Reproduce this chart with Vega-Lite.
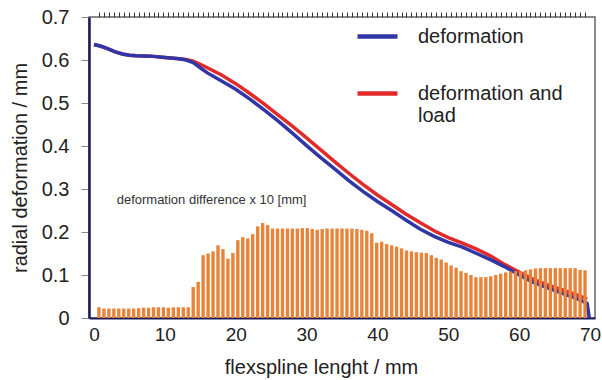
{
  "$schema": "https://vega.github.io/schema/vega-lite/v6.json",
  "width": 506,
  "height": 301,
  "autosize": {"type": "none"},
  "padding": {"left": 89, "top": 17, "right": 7, "bottom": 62},
  "background": "white",
  "config": {
    "font": "Liberation Sans",
    "view": {"stroke": "#666666", "strokeWidth": 1.5},
    "axis": {"grid": false, "labelOverlap": false}
  },
  "resolve": {"axis": {"x": "independent"}},
  "datasets": {
    "lines": [
      {"x": 0, "y": 0.636, "series": "deformation"},
      {"x": 1, "y": 0.632, "series": "deformation"},
      {"x": 2, "y": 0.626, "series": "deformation"},
      {"x": 3, "y": 0.619, "series": "deformation"},
      {"x": 4, "y": 0.614, "series": "deformation"},
      {"x": 5, "y": 0.611, "series": "deformation"},
      {"x": 6, "y": 0.610, "series": "deformation"},
      {"x": 8, "y": 0.609, "series": "deformation"},
      {"x": 10, "y": 0.606, "series": "deformation"},
      {"x": 12, "y": 0.603, "series": "deformation"},
      {"x": 13, "y": 0.600, "series": "deformation"},
      {"x": 14, "y": 0.594, "series": "deformation"},
      {"x": 15, "y": 0.582, "series": "deformation"},
      {"x": 16, "y": 0.570, "series": "deformation"},
      {"x": 18, "y": 0.551, "series": "deformation"},
      {"x": 20, "y": 0.532, "series": "deformation"},
      {"x": 22, "y": 0.509, "series": "deformation"},
      {"x": 24, "y": 0.484, "series": "deformation"},
      {"x": 26, "y": 0.458, "series": "deformation"},
      {"x": 28, "y": 0.430, "series": "deformation"},
      {"x": 30, "y": 0.401, "series": "deformation"},
      {"x": 32, "y": 0.373, "series": "deformation"},
      {"x": 34, "y": 0.346, "series": "deformation"},
      {"x": 36, "y": 0.319, "series": "deformation"},
      {"x": 38, "y": 0.294, "series": "deformation"},
      {"x": 40, "y": 0.271, "series": "deformation"},
      {"x": 42, "y": 0.250, "series": "deformation"},
      {"x": 44, "y": 0.228, "series": "deformation"},
      {"x": 46, "y": 0.207, "series": "deformation"},
      {"x": 48, "y": 0.190, "series": "deformation"},
      {"x": 50, "y": 0.176, "series": "deformation"},
      {"x": 52, "y": 0.165, "series": "deformation"},
      {"x": 54, "y": 0.150, "series": "deformation"},
      {"x": 56, "y": 0.135, "series": "deformation"},
      {"x": 58, "y": 0.119, "series": "deformation"},
      {"x": 60, "y": 0.100, "series": "deformation"},
      {"x": 62, "y": 0.083, "series": "deformation"},
      {"x": 64, "y": 0.070, "series": "deformation"},
      {"x": 66, "y": 0.058, "series": "deformation"},
      {"x": 68, "y": 0.046, "series": "deformation"},
      {"x": 69.6, "y": 0.034, "series": "deformation"},
      {"x": 69.9, "y": 0.0, "series": "deformation"},
      {"x": 0, "y": 0.636, "series": "deformation and load"},
      {"x": 1, "y": 0.632, "series": "deformation and load"},
      {"x": 2, "y": 0.626, "series": "deformation and load"},
      {"x": 3, "y": 0.619, "series": "deformation and load"},
      {"x": 4, "y": 0.614, "series": "deformation and load"},
      {"x": 5, "y": 0.611, "series": "deformation and load"},
      {"x": 6, "y": 0.610, "series": "deformation and load"},
      {"x": 8, "y": 0.609, "series": "deformation and load"},
      {"x": 10, "y": 0.606, "series": "deformation and load"},
      {"x": 12, "y": 0.603, "series": "deformation and load"},
      {"x": 13, "y": 0.601, "series": "deformation and load"},
      {"x": 14, "y": 0.597, "series": "deformation and load"},
      {"x": 15, "y": 0.590, "series": "deformation and load"},
      {"x": 16, "y": 0.582, "series": "deformation and load"},
      {"x": 18, "y": 0.565, "series": "deformation and load"},
      {"x": 20, "y": 0.545, "series": "deformation and load"},
      {"x": 22, "y": 0.522, "series": "deformation and load"},
      {"x": 24, "y": 0.498, "series": "deformation and load"},
      {"x": 26, "y": 0.472, "series": "deformation and load"},
      {"x": 28, "y": 0.446, "series": "deformation and load"},
      {"x": 30, "y": 0.419, "series": "deformation and load"},
      {"x": 32, "y": 0.391, "series": "deformation and load"},
      {"x": 34, "y": 0.363, "series": "deformation and load"},
      {"x": 36, "y": 0.336, "series": "deformation and load"},
      {"x": 38, "y": 0.310, "series": "deformation and load"},
      {"x": 40, "y": 0.286, "series": "deformation and load"},
      {"x": 42, "y": 0.264, "series": "deformation and load"},
      {"x": 44, "y": 0.242, "series": "deformation and load"},
      {"x": 46, "y": 0.222, "series": "deformation and load"},
      {"x": 48, "y": 0.203, "series": "deformation and load"},
      {"x": 50, "y": 0.187, "series": "deformation and load"},
      {"x": 52, "y": 0.174, "series": "deformation and load"},
      {"x": 54, "y": 0.160, "series": "deformation and load"},
      {"x": 56, "y": 0.144, "series": "deformation and load"},
      {"x": 58, "y": 0.124, "series": "deformation and load"},
      {"x": 60, "y": 0.107, "series": "deformation and load"},
      {"x": 62, "y": 0.090, "series": "deformation and load"},
      {"x": 64, "y": 0.077, "series": "deformation and load"},
      {"x": 66, "y": 0.066, "series": "deformation and load"},
      {"x": 68, "y": 0.055, "series": "deformation and load"},
      {"x": 69.6, "y": 0.044, "series": "deformation and load"}
    ],
    "diff": [
      {"x": 0.7, "d": 0.025}, {"x": 1.4, "d": 0.022}, {"x": 2.1, "d": 0.022}, {"x": 2.8, "d": 0.022},
      {"x": 3.5, "d": 0.022}, {"x": 4.2, "d": 0.022}, {"x": 4.9, "d": 0.022}, {"x": 5.6, "d": 0.022},
      {"x": 6.3, "d": 0.023}, {"x": 7.0, "d": 0.024}, {"x": 7.7, "d": 0.024}, {"x": 8.4, "d": 0.025},
      {"x": 9.1, "d": 0.025}, {"x": 9.8, "d": 0.025}, {"x": 10.5, "d": 0.024}, {"x": 11.2, "d": 0.025},
      {"x": 11.9, "d": 0.025}, {"x": 12.6, "d": 0.025}, {"x": 13.3, "d": 0.025}, {"x": 14.0, "d": 0.072},
      {"x": 14.7, "d": 0.084}, {"x": 15.4, "d": 0.146}, {"x": 16.1, "d": 0.150}, {"x": 16.8, "d": 0.155},
      {"x": 17.5, "d": 0.169}, {"x": 18.2, "d": 0.160}, {"x": 18.9, "d": 0.138}, {"x": 19.6, "d": 0.151},
      {"x": 20.3, "d": 0.181}, {"x": 21.0, "d": 0.188}, {"x": 21.7, "d": 0.185}, {"x": 22.4, "d": 0.195},
      {"x": 23.1, "d": 0.213}, {"x": 23.8, "d": 0.221}, {"x": 24.5, "d": 0.216}, {"x": 25.2, "d": 0.208},
      {"x": 25.9, "d": 0.208}, {"x": 26.6, "d": 0.208}, {"x": 27.3, "d": 0.208}, {"x": 28.0, "d": 0.208},
      {"x": 28.7, "d": 0.208}, {"x": 29.4, "d": 0.209}, {"x": 30.1, "d": 0.209}, {"x": 30.8, "d": 0.207},
      {"x": 31.5, "d": 0.205}, {"x": 32.2, "d": 0.207}, {"x": 32.9, "d": 0.208}, {"x": 33.6, "d": 0.208},
      {"x": 34.3, "d": 0.208}, {"x": 35.0, "d": 0.208}, {"x": 35.7, "d": 0.208}, {"x": 36.4, "d": 0.208},
      {"x": 37.1, "d": 0.207}, {"x": 37.8, "d": 0.205}, {"x": 38.5, "d": 0.203}, {"x": 39.2, "d": 0.197},
      {"x": 39.9, "d": 0.175}, {"x": 40.6, "d": 0.177}, {"x": 41.3, "d": 0.172}, {"x": 42.0, "d": 0.169},
      {"x": 42.7, "d": 0.166}, {"x": 43.4, "d": 0.162}, {"x": 44.1, "d": 0.157}, {"x": 44.8, "d": 0.155},
      {"x": 45.5, "d": 0.153}, {"x": 46.2, "d": 0.152}, {"x": 46.9, "d": 0.151}, {"x": 47.6, "d": 0.146},
      {"x": 48.3, "d": 0.140}, {"x": 49.0, "d": 0.136}, {"x": 49.7, "d": 0.129}, {"x": 50.4, "d": 0.122},
      {"x": 51.1, "d": 0.117}, {"x": 51.8, "d": 0.109}, {"x": 52.5, "d": 0.105}, {"x": 53.2, "d": 0.100},
      {"x": 53.9, "d": 0.095}, {"x": 54.6, "d": 0.095}, {"x": 55.3, "d": 0.095}, {"x": 56.0, "d": 0.097},
      {"x": 56.7, "d": 0.100}, {"x": 57.4, "d": 0.103}, {"x": 58.1, "d": 0.106}, {"x": 58.8, "d": 0.108},
      {"x": 59.5, "d": 0.109}, {"x": 60.2, "d": 0.109}, {"x": 60.9, "d": 0.111}, {"x": 61.6, "d": 0.113},
      {"x": 62.3, "d": 0.115}, {"x": 63.0, "d": 0.116}, {"x": 63.7, "d": 0.116}, {"x": 64.4, "d": 0.116},
      {"x": 65.1, "d": 0.116}, {"x": 65.8, "d": 0.116}, {"x": 66.5, "d": 0.116}, {"x": 67.2, "d": 0.116},
      {"x": 67.9, "d": 0.116}, {"x": 68.6, "d": 0.112}, {"x": 69.3, "d": 0.111}
    ],
    "note": [
      {"x": 3.2, "y": 0.274, "label": "deformation difference x 10 [mm]"}
    ]
  },
  "layer": [
    {
      "data": {"name": "lines"},
      "transform": [{"filter": "datum.series == 'deformation and load'"}],
      "mark": {"type": "line", "strokeWidth": 3.5, "interpolate": "linear"},
      "encoding": {
        "x": {
          "field": "x", "type": "quantitative",
          "scale": {"domain": [0, 70], "nice": false},
          "axis": {
            "title": "flexspline lenght / mm",
            "titleFontSize": 20, "titleFontWeight": "normal", "titleColor": "#222", "titlePadding": 13,
            "titleX": 232,
            "labelFontSize": 19, "labelColor": "#222", "labelPadding": 7, "labelFlush": false,
            "ticks": false, "tickSize": 5,
            "domainColor": "#1c1c5a", "domainWidth": 2,
            "values": [0, 10, 20, 30, 40, 50, 60, 70]
          }
        },
        "y": {
          "field": "y", "type": "quantitative",
          "scale": {"domain": [0, 0.7], "nice": false},
          "axis": {
            "title": "radial deformation / mm",
            "titleFontSize": 20, "titleFontWeight": "normal", "titleColor": "#222", "titlePadding": 11,
            "labelFontSize": 20, "labelColor": "#222", "labelPadding": 12,
            "values": [0, 0.1, 0.2, 0.3, 0.4, 0.5, 0.6, 0.7], "format": ".1~f",
            "tickSize": 8, "tickColor": "#888", "tickWidth": 1,
            "domainColor": "#1c1c5a", "domainWidth": 2.5
          }
        },
        "color": {
          "field": "series", "type": "nominal",
          "scale": {"domain": ["deformation", "deformation and load"], "range": ["#3036a6", "#e12a2a"]},
          "legend": {
            "orient": "none", "legendX": 266, "legendY": -3, "title": null,
            "symbolType": "stroke", "symbolSize": 1600, "symbolStrokeWidth": 4.5,
            "labelFontSize": 20, "labelColor": "#222", "labelOffset": 18, "rowPadding": 24,
            "labelExpr": "datum.label == 'deformation and load' ? ['deformation and', 'load'] : datum.label"
          }
        }
      }
    },
    {
      "data": {"name": "lines"},
      "transform": [{"filter": "datum.series == 'deformation'"}],
      "mark": {"type": "line", "strokeWidth": 3.5},
      "encoding": {
        "x": {"field": "x", "type": "quantitative", "axis": null},
        "y": {"field": "y", "type": "quantitative"},
        "color": {"field": "series", "type": "nominal"}
      }
    },
    {
      "data": {"name": "diff"},
      "mark": {"type": "bar", "size": 3.4, "color": "#e8843a"},
      "encoding": {
        "x": {
          "field": "x", "type": "quantitative",
          "axis": {
            "title": null, "labels": false, "domain": false,
            "tickSize": 5, "tickColor": "#333", "tickWidth": 1,
            "values": [0.7, 1.4, 2.1, 2.8, 3.5, 4.2, 4.9, 5.6, 6.3, 7.0, 7.7, 8.4, 9.1, 9.8, 10.5, 11.2, 11.9, 12.6, 13.3, 14.0, 14.7, 15.4, 16.1, 16.8, 17.5, 18.2, 18.9, 19.6, 20.3, 21.0, 21.7, 22.4, 23.1, 23.8, 24.5, 25.2, 25.9, 26.6, 27.3, 28.0, 28.7, 29.4, 30.1, 30.8, 31.5, 32.2, 32.9, 33.6, 34.3, 35.0, 35.7, 36.4, 37.1, 37.8, 38.5, 39.2, 39.9, 40.6, 41.3, 42.0, 42.7, 43.4, 44.1, 44.8, 45.5, 46.2, 46.9, 47.6, 48.3, 49.0, 49.7, 50.4, 51.1, 51.8, 52.5, 53.2, 53.9, 54.6, 55.3, 56.0, 56.7, 57.4, 58.1, 58.8, 59.5, 60.2, 60.9, 61.6, 62.3, 63.0, 63.7, 64.4, 65.1, 65.8, 66.5, 67.2, 67.9, 68.6, 69.3]
          }
        },
        "y": {"field": "d", "type": "quantitative"}
      }
    },
    {
      "data": {"name": "note"},
      "mark": {"type": "text", "align": "left", "baseline": "middle", "fontSize": 13, "color": "#333"},
      "encoding": {
        "x": {"field": "x", "type": "quantitative", "axis": null},
        "y": {"field": "y", "type": "quantitative"},
        "text": {"field": "label"}
      }
    }
  ]
}
